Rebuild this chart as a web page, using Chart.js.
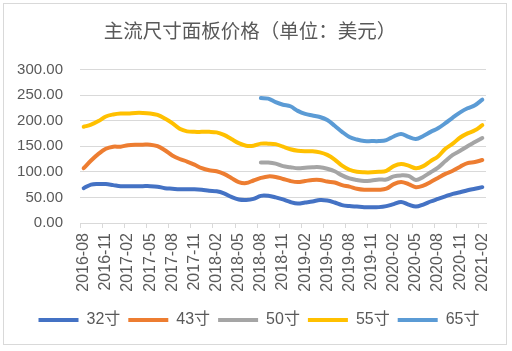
<!DOCTYPE html>
<html>
<head>
<meta charset="utf-8">
<script src="https://cdn.jsdelivr.net/npm/chart.js@4.4.0/dist/chart.umd.min.js"></script>
<style>
  html, body { margin: 0; padding: 0; background: #fff; }
  #wrap { position: relative; width: 512px; height: 351px; }
  #frame { position: absolute; left: 3px; top: 3px; width: 504px; height: 342px; border: 1px solid #d9d9d9; box-sizing: border-box; }
  canvas { position: absolute; left: 0; top: 0; }
</style>
</head>
<body>
<div id="wrap">
  <div id="frame"></div>
  <canvas id="chart" width="512" height="351"></canvas>
</div>
<script>
// months 2016-08 .. 2021-02
const months = [
  '2016-08','2016-09','2016-10','2016-11','2016-12','2017-01','2017-02','2017-03','2017-04','2017-05',
  '2017-06','2017-07','2017-08','2017-09','2017-10','2017-11','2017-12','2018-01','2018-02','2018-03',
  '2018-04','2018-05','2018-06','2018-07','2018-08','2018-09','2018-10','2018-11','2018-12','2019-01',
  '2019-02','2019-03','2019-04','2019-05','2019-06','2019-07','2019-08','2019-09','2019-10','2019-11',
  '2019-12','2020-01','2020-02','2020-03','2020-04','2020-05','2020-06','2020-07','2020-08','2020-09',
  '2020-10','2020-11','2020-12','2021-01','2021-02'
];

const size32 = [68,75,76,76,74,72,72,72,72,72, 71,68,67,66,66,66,65,63,62,58,
  51,46,45,47,53,53,50,46,41,38, 40,42,45,44,40,35,33,32,31,31,
  31,33,37,41,36,32,36,42,47,52, 57,60,64,67,70];
const size43 = [107,122,135,145,149,149,152,153,153,153, 150,142,132,125,120,114,107,103,101,96,
  88,80,78,83,88,91,90,86,82,80, 82,84,84,81,79,74,71,67,65,65,
  65,67,76,80,76,70,73,80,88,96, 102,110,117,119,123];
const size50 = [null,null,null,null,null,null,null,null,null,null, null,null,null,null,null,null,null,null,null,null,
  null,null,null,null,118,118,116,111,109,107, 108,109,109,106,101,93,87,84,82,83,
  85,85,91,93,92,84,90,99,108,121, 133,141,150,158,166];
const size55 = [188,192,199,208,212,214,214,215,215,214, 211,204,195,184,179,178,178,178,177,172,
  164,156,151,151,155,155,154,149,144,141, 140,140,138,133,124,112,104,100,99,99,
  100,102,111,115,112,107,111,121,130,145, 155,167,175,181,191];
const size65 = [null,null,null,null,null,null,null,null,null,null, null,null,null,null,null,null,null,null,null,null,
  null,null,null,null,244,243,236,231,228,219, 213,210,207,201,190,178,168,163,160,160,
  160,162,169,174,168,164,170,178,185,195, 206,216,224,230,241];

const seriesNames = ['32寸', '43寸', '50寸', '55寸', '65寸'];
const seriesColors = ['#4472C4', '#ED7D31', '#A5A5A5', '#FFC000', '#5B9BD5'];
const seriesData = [size32, size43, size50, size55, size65];

Chart.defaults.font.family = "'Liberation Sans', 'Noto Sans CJK SC', sans-serif";
Chart.defaults.color = '#595959';

// nudge the legend a bit to the right, like the original
const legendShift = {
  id: 'legendShift',
  afterLayout(chart) {
    chart.legend.left += 9;
    chart.legend.right += 9;
  }
};

const ctx = document.getElementById('chart').getContext('2d');
new Chart(ctx, {
  type: 'line',
  data: {
    labels: months,
    datasets: seriesNames.map((name, i) => ({
      label: name,
      data: seriesData[i],
      borderColor: seriesColors[i],
      backgroundColor: seriesColors[i],
      borderWidth: 4,
      borderCapStyle: 'round',
      borderJoinStyle: 'round',
      pointRadius: 0,
      tension: 0.35,
      fill: false
    }))
  },
  plugins: [legendShift],
  options: {
    responsive: false,
    animation: false,
    layout: { padding: { left: 14, right: 26, top: 10, bottom: 13 } },
    plugins: {
      title: {
        display: true,
        text: '主流尺寸面板价格（单位：美元）',
        color: '#595959',
        font: { size: 19.5, weight: 'normal', family: "'Noto Sans CJK SC', sans-serif" },
        padding: { top: 9, bottom: 27 }
      },
      legend: {
        position: 'bottom',
        labels: {
          usePointStyle: true,
          pointStyle: 'line',
          pointStyleWidth: 40,
          padding: 8,
          color: '#595959',
          font: { size: 16 }
        }
      },
      tooltip: { enabled: false }
    },
    scales: {
      x: {
        offset: true,
        afterFit: s => { s.height = 81; },
        grid: {
          offset: true,
          drawOnChartArea: false,
          tickLength: 5,
          color: c => (c.index % 3 === 0 ? '#d9d9d9' : 'rgba(0,0,0,0)')
        },
        border: { display: true, color: '#d9d9d9' },
        ticks: {
          autoSkip: false,
          maxRotation: 90,
          minRotation: 90,
          padding: 5,
          color: '#595959',
          font: { size: 16 },
          callback: function(v, i) { return i % 3 === 0 ? months[i] : ''; }
        }
      },
      y: {
        min: 0,
        max: 300,
        afterFit: s => { s.width = 66; },
        grid: { color: '#d9d9d9', drawTicks: false },
        border: { display: false },
        ticks: {
          stepSize: 50,
          padding: 17,
          color: '#595959',
          font: { size: 15 },
          callback: v => v.toFixed(2)
        }
      }
    }
  }
});
</script>
</body>
</html>
